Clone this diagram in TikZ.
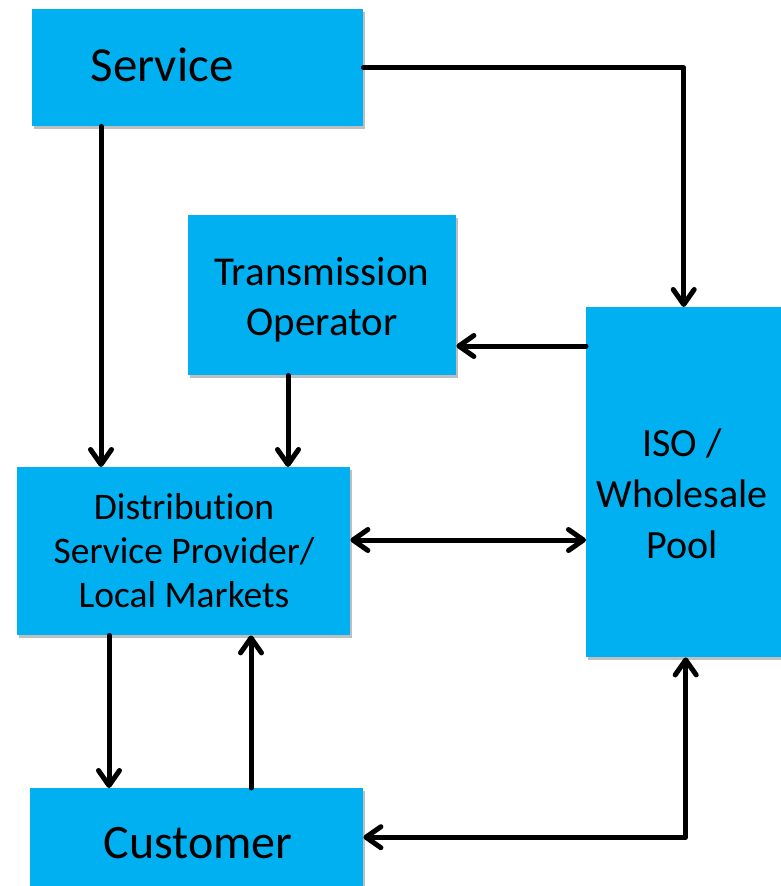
\documentclass[tikz,border=0pt]{standalone}
\usepackage{fontspec}
\setmainfont{Carlito}[Ligatures={CommonOff}]
\usetikzlibrary{arrows.meta,shadows}
\definecolor{boxblue}{HTML}{00B0F0}
\begin{document}
\begin{tikzpicture}[x=1pt,y=-1pt,
  box/.style={fill=boxblue, draw=none, inner sep=0pt, anchor=north west,
    drop shadow={opacity=0.25, shadow xshift=2pt, shadow yshift=-3pt, fill=black}},
  lbl/.style={align=center, inner sep=0pt, text=black},
  tipa/.tip={Straight Barb[length=15pt,width=21pt,round]},
  conn/.style={line width=5pt, line cap=round, line join=round, -{tipa}},
  conn2/.style={line width=5pt, line cap=round, line join=round, {tipa}-{tipa}}]
\useasboundingbox (0,0) rectangle (781,886);
% boxes
\node[box, minimum width=331pt, minimum height=117pt] (service) at (32,9) {};
\node[box, minimum width=268pt, minimum height=160pt] (trans) at (188,215) {};
\node[box, minimum width=195pt, minimum height=350pt] (iso) at (586,307) {};
\node[box, minimum width=333pt, minimum height=168pt] (dist) at (17,467) {};
\node[box, minimum width=333pt, minimum height=98pt] (cust) at (30,788) {};
% labels
\node[lbl, font=\fontsize{49}{58}\selectfont] (tservice) at (162,65) {Service};
\node[lbl, font=\fontsize{41}{50}\selectfont] (ttrans) at (322,300) {Transmission\\Operator};
\node[lbl, font=\fontsize{40}{51}\selectfont] (tiso) at (682,494) {ISO /\\Wholesale\\Pool};
\node[lbl, font=\fontsize{37.5}{44}\selectfont] (tdist) at (184,551) {Distribution\\Service Provider/\\Local Markets};
\node[lbl, font=\fontsize{48}{58}\selectfont] (tcust) at (198,843) {Customer};
% connector anchor points
\coordinate (s1) at ([xshift=69pt]service.south west);
\coordinate (t1) at ([xshift=100pt]trans.south west);
\coordinate (i1) at ([yshift=-39pt]iso.north west);
\coordinate (d1) at ([yshift=-73pt]dist.north east);
\coordinate (d2) at ([xshift=92pt]dist.south west);
\coordinate (c2) at ([xshift=221pt]cust.north west);
\coordinate (i2) at ([xshift=2pt]iso.south);
% connectors
\draw[conn] (service.east) -| (iso.north);
\draw[conn] (s1) -- (s1 |- dist.north);
\draw[conn] (i1) -- (i1 -| trans.east);
\draw[conn] (t1) -- (t1 |- dist.north);
\draw[conn2] (d1) -- (d1 -| iso.west);
\draw[conn] (d2) -- (d2 |- cust.north);
\draw[conn] (c2) -- (c2 |- dist.south);
\draw[conn2] (cust.east) -| (i2);
\end{tikzpicture}
\end{document}
